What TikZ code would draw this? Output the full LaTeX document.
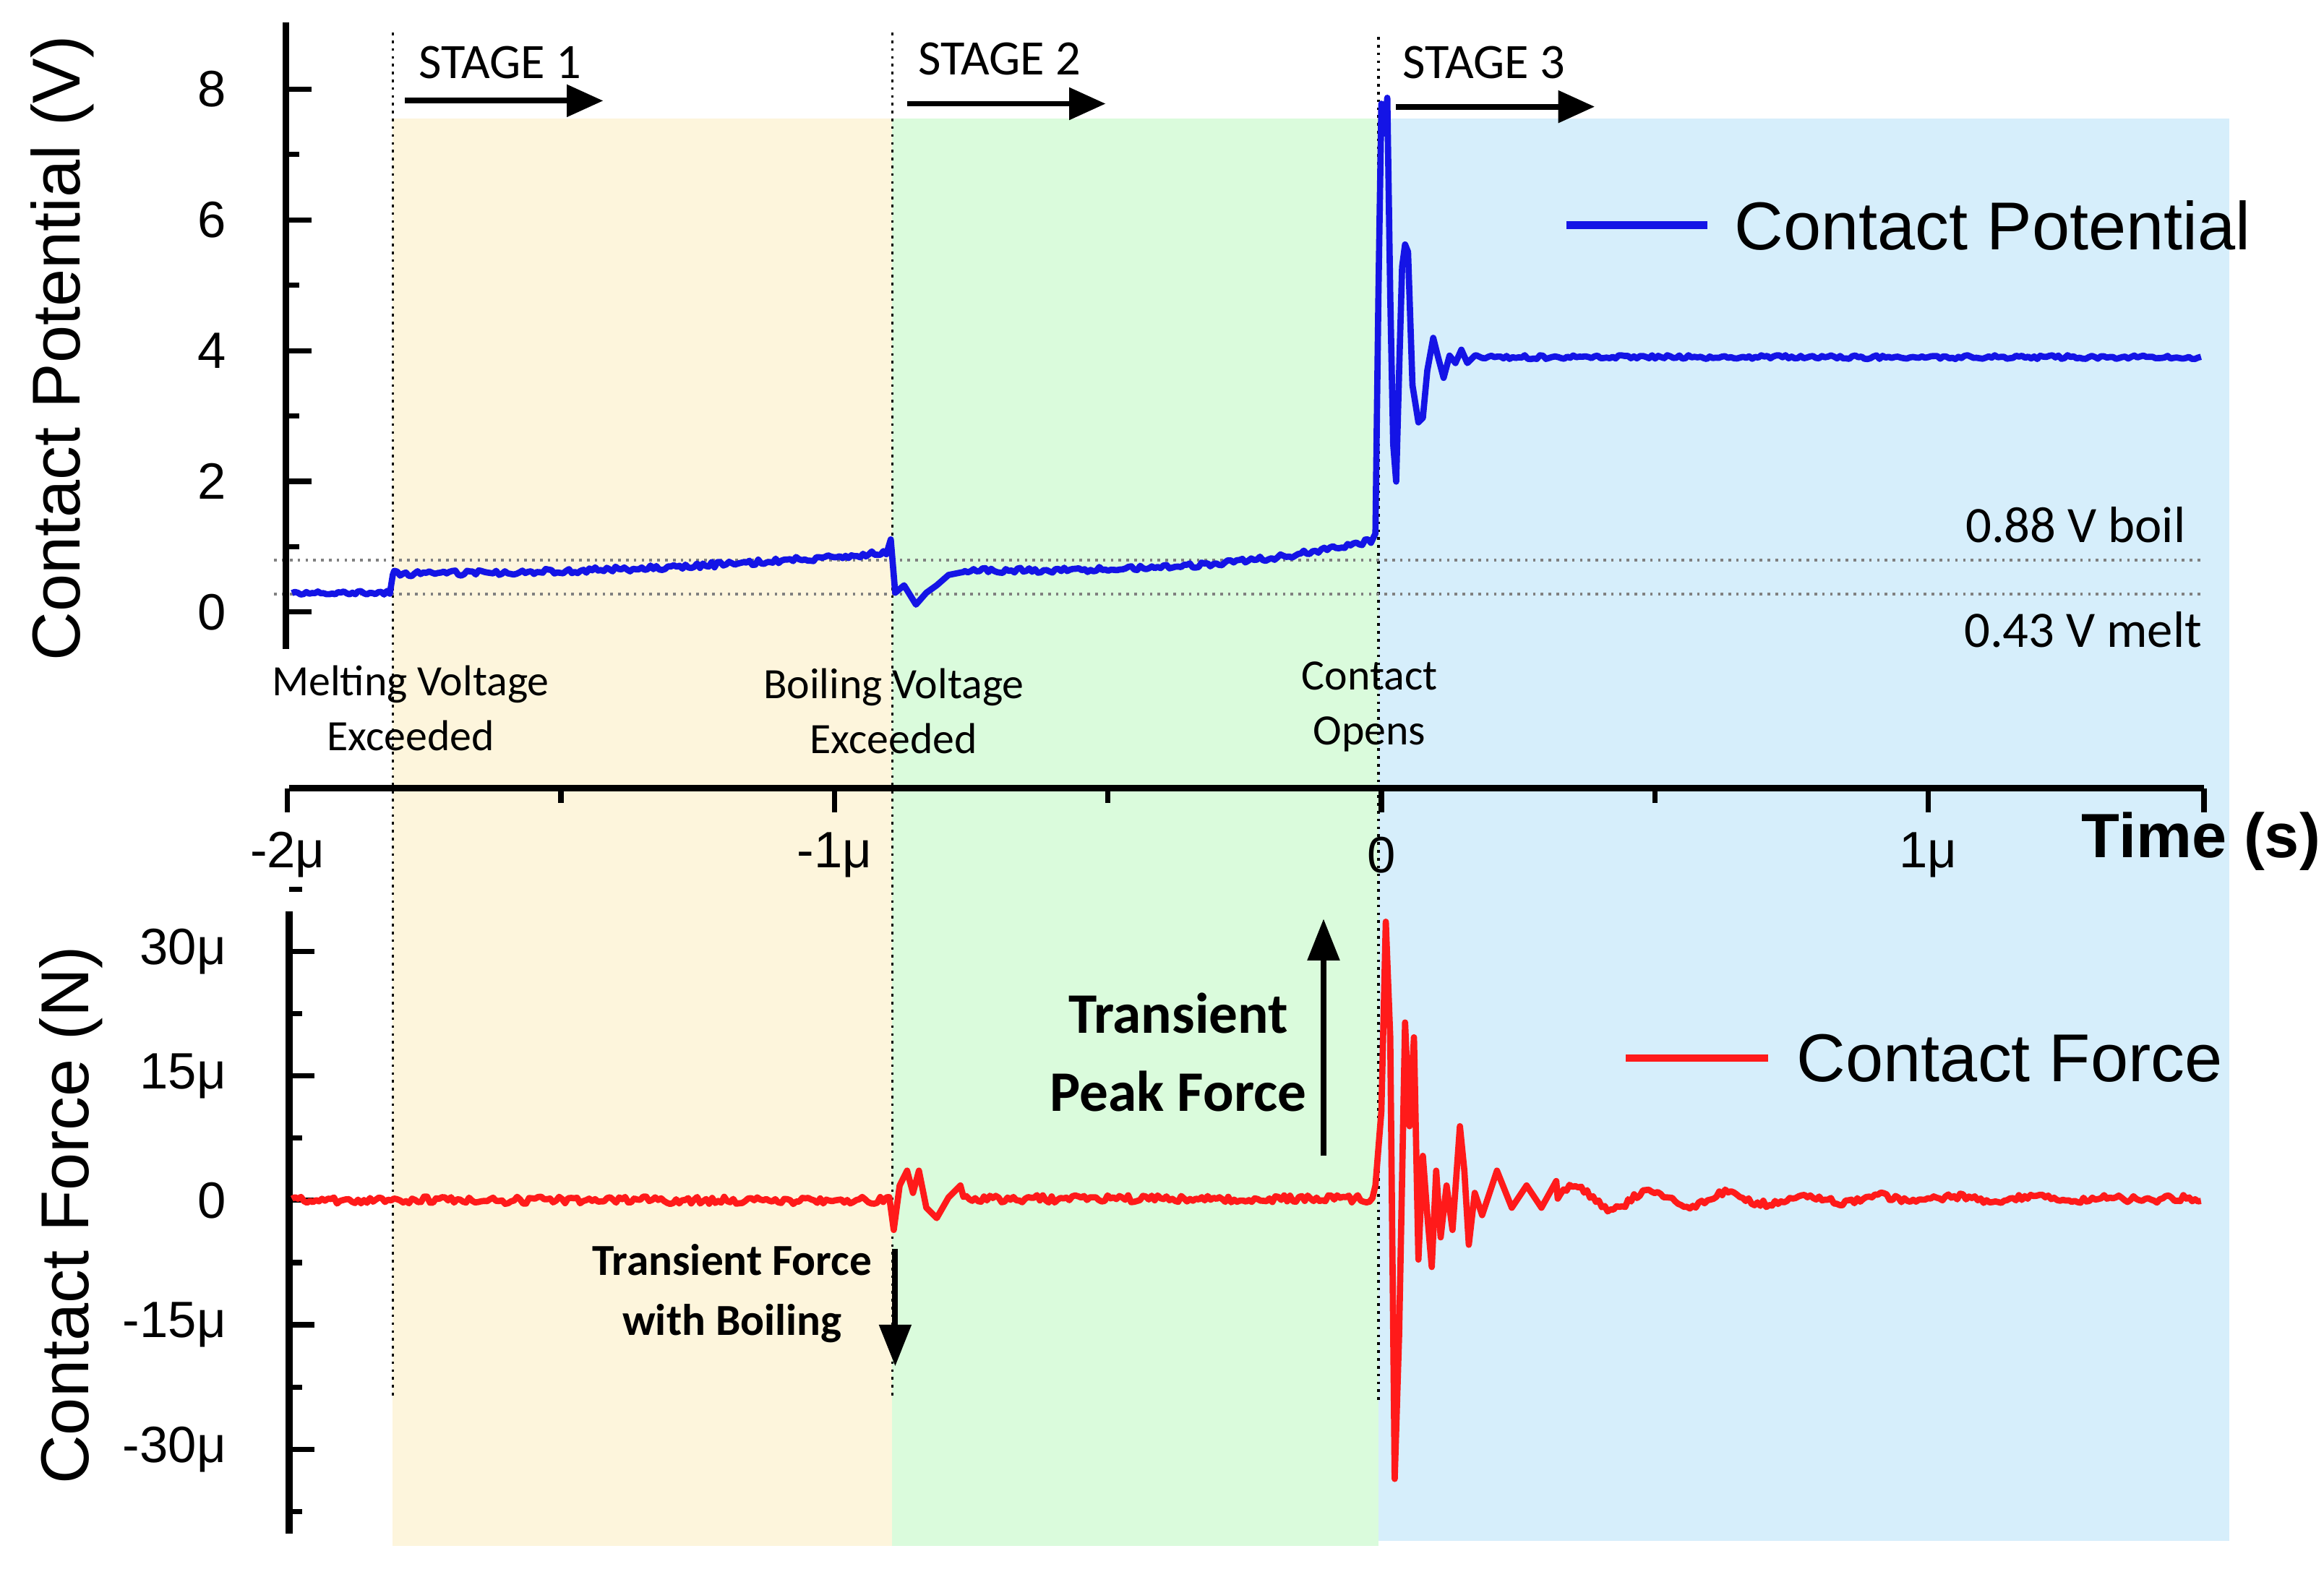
\documentclass[tikz,border=0pt]{standalone}
\usepackage{fontspec}
\setmainfont{Liberation Sans}
\newfontfamily\calfont{Carlito}
\usetikzlibrary{arrows.meta}
\definecolor{yel}{HTML}{FDF5DC}
\definecolor{grn}{HTML}{DAFBDC}
\definecolor{blu}{HTML}{D6EEFB}
\definecolor{cblue}{HTML}{1414E6}
\definecolor{cred}{HTML}{FF1A1A}
\begin{document}
\begin{tikzpicture}[x=0.01cm,y=-0.01cm,
  axis/.style={line width=1.3pt},
  tk/.style={line width=1pt},
  tl/.style={font=\fontsize{9.8}{11}\selectfont},
  ann/.style={font=\calfont\fontsize{8.3}{10.5}\selectfont,align=center},
  vd/.style={densely dotted,line width=0.5pt},
  arr/.style={-{Triangle[length=7pt,width=6pt]},line width=1.1pt}]
\useasboundingbox (0,0) rectangle (1568,1064);
\fill[white] (0,0) rectangle (1568,1064);
% shaded stages
\fill[yel] (265,80) rectangle (602,1043);
\fill[grn] (602,80) rectangle (930,1043);
\fill[blu] (930,80) rectangle (1504,1040);
% dotted verticals
\draw[vd] (265,22) -- (265,945);
\draw[vd] (602,22) -- (602,945);
\draw[vd] (930,25) -- (930,945);
% thresholds
\draw[vd,gray] (185,378) -- (1487,378);
\draw[vd,gray] (185,401) -- (1487,401);
% top axis
\draw[axis] (193,15) -- (193,438);
\foreach \v/\l in {0/0,2/2,4/4,6/6,8/8}{
  \draw[tk] (193,{413-44.1*\v}) -- (210,{413-44.1*\v});
  \node[tl,anchor=east] (yt\v) at (165,{413-44.1*\v}) {\l};}
\foreach \v in {1,3,5,7}{\draw[tk] (193,{413-44.1*\v}) -- (202,{413-44.1*\v});}
% time axis
\draw[axis] (195,532) -- (1487,532);
\foreach \t/\l in {-2/-2μ,-1/-1μ,0/0,1/1μ}{
  \draw[tk] ({932+369*\t},532) -- ({932+369*\t},548);
  \node[tl] (xt\t) at ({932+369*\t},577) {\l};}
\foreach \t in {-1.5,-0.5,0.5}{\draw[tk] ({932+369*\t},532) -- ({932+369*\t},542);}
\draw[tk] (1487,532) -- (1487,548);
\node[font=\bfseries\fontsize{12}{14}\selectfont] (time) at (1485,568) {Time (s)};
% bottom axis
\draw[axis] (195,615) -- (195,1035);
\foreach \f/\l in {30/30μ,15/15μ,0/0,-15/-15μ,-30/-30μ}{
  \draw[tk] (195,{810-5.6*\f}) -- (212,{810-5.6*\f});
  \node[tl,anchor=east] at (165,{810-5.6*\f}) {\l};}
\foreach \f in {37.5,22.5,7.5,-7.5,-22.5,-37.5}{\draw[tk] (195,{810-5.6*\f}) -- (204,{810-5.6*\f});}
% axis titles
\node[rotate=90,font=\fontsize{13}{15}\selectfont] (ylab1) at (42,235) {Contact Potential (V)};
\node[rotate=90,font=\fontsize{13}{15}\selectfont] (ylab2) at (48,820) {Contact Force (N)};
% stages
\node[ann,anchor=west,font=\calfont\fontsize{9.5}{11}\selectfont] (s1) at (270,42) {STAGE 1};
\node[ann,anchor=west,font=\calfont\fontsize{9.5}{11}\selectfont] (s2) at (607,40) {STAGE 2};
\node[ann,anchor=west,font=\calfont\fontsize{9.5}{11}\selectfont] (s3) at (934,42) {STAGE 3};
\coordinate (a1) at (273,68); \coordinate (b1) at (407,68);
\coordinate (a2) at (612,70); \coordinate (b2) at (746,70);
\coordinate (a3) at (942,72); \coordinate (b3) at (1076,72);
\draw[arr] (a1) -- (b1); \draw[arr] (a2) -- (b2); \draw[arr] (a3) -- (b3);
% annotations
\node[ann] (melt) at (277,478) {Melting Voltage\\Exceeded};
\node[ann] (boil) at (603,480) {Boiling Voltage\\Exceeded};
\node[ann] (open) at (924,477) {Contact\\Opens};
\node[ann,anchor=east,font=\calfont\fontsize{9.8}{12}\selectfont] (l1) at (1487,354) {0.88 V boil};
\node[ann,anchor=east,font=\calfont\fontsize{9.8}{12}\selectfont] (l2) at (1498,425) {0.43 V melt};
\node[ann,font=\calfont\bfseries\fontsize{11}{15}\selectfont] (tpf) at (795,710) {Transient\\Peak Force};
\node[ann,font=\calfont\bfseries\fontsize{8.5}{11.5}\selectfont] (tfb) at (494,873) {Transient Force\\with Boiling};
\coordinate (u1) at (893,780); \coordinate (u2) at (893,620);
\draw[arr,-{Triangle[length=8pt,width=6pt]}] (u1) -- (u2);
\coordinate (d1) at (604,843); \coordinate (d2) at (604,922);
\draw[arr,-{Triangle[length=8pt,width=6pt]}] (d1) -- (d2);
% legends
\coordinate (lb1) at (1057,152); \coordinate (lb2) at (1152,152);
\draw[cblue,line width=1.5pt] (lb1) -- (lb2);
\node[anchor=west,font=\fontsize{13}{15}\selectfont] (leg1) at (1158,152) {Contact Potential};
\coordinate (lr1) at (1097,714); \coordinate (lr2) at (1193,714);
\draw[cred,line width=1.5pt] (lr1) -- (lr2);
\node[anchor=west,font=\fontsize{13}{15}\selectfont] (leg2) at (1200,714) {Contact Force};
% blue curve
\pgfmathsetseed{7}
\draw[cblue,line width=1.2pt,line join=round]
 plot[domain=197:263,samples=35] (\x,{400+1.2*rand}) -- (265,388)
 -- plot[domain=266:598,samples=170] (\x,{387-14*((\x-266)/332)^2+1.8*rand})
 -- (601,364) -- (604,400) -- (610,395) -- (618,408) -- (625,400) -- (632,395) -- (640,388) -- (650,386)
 -- plot[domain=651:925,samples=140] (\x,{385-20*((\x-650)/275)^3+1.8*rand})
 -- (928,360) -- (930,200) -- (932,70) -- (934,90) -- (936,66) -- (938,200) -- (940,300) -- (942,325)
 -- (944,250) -- (946,180) -- (948,165) -- (950,170) -- (953,260) -- (957,285) -- (960,282) -- (963,250)
 -- (967,228) -- (970,240) -- (974,255) -- (978,240) -- (982,245) -- (986,236) -- (990,245) -- (995,240)
 -- plot[domain=996:1485,samples=240] (\x,{241+1.3*rand});
% red curve
\draw[cred,line width=1.2pt,line join=round]
 plot[domain=197:600,samples=200] (\x,{810+2.5*rand})
 -- (603,830) -- (607,800) -- (612,790) -- (616,805) -- (620,790) -- (625,815) -- (632,822) -- (640,808) -- (648,800)
 -- plot[domain=650:926,samples=140] (\x,{809+2.5*rand})
 -- (928,800) -- (932,750) -- (935,622) -- (938,700) -- (941,998) -- (944,900) -- (948,690) -- (951,760)
 -- (954,700) -- (957,850) -- (960,780) -- (963,820) -- (966,855) -- (969,790) -- (972,835) -- (976,800)
 -- (980,830) -- (985,760) -- (988,790) -- (991,840) -- (995,805) -- (1000,820) -- (1010,790) -- (1020,815)
 -- (1030,800) -- (1040,815) -- (1050,797)
 -- plot[domain=1051:1485,samples=220] (\x,{809-9*exp(-(\x-1050)/150)*sin(7*(\x-1050))+2.2*rand});
\end{tikzpicture}
\end{document}
